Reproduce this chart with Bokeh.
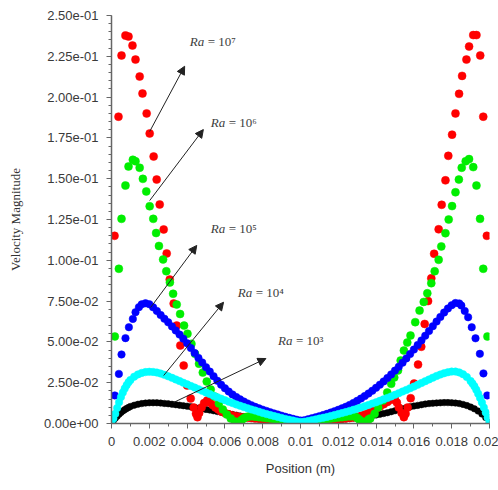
from bokeh.plotting import figure
from bokeh.models import Range1d, FixedTicker, Label, Arrow, NormalHead
from bokeh.embed import file_html
from bokeh.resources import INLINE

# ---------------- data (position [m], velocity magnitude) ----------------
ra7 = [(0.00016, 0.115), (0.00037, 0.188), (0.00053, 0.2255), (0.00074, 0.2377), (0.0009, 0.2371),
       (0.00111, 0.2316), (0.00127, 0.223), (0.00149, 0.2126), (0.00164, 0.2022), (0.00186, 0.19),
       (0.00202, 0.1777), (0.00223, 0.1636), (0.00239, 0.1495), (0.00255, 0.1342), (0.00276, 0.1189),
       (0.00292, 0.1042), (0.00308, 0.0882), (0.00329, 0.0735), (0.00345, 0.06), (0.00364, 0.0478),
       (0.00382, 0.0355), (0.004, 0.0233), (0.00419, 0.0153), (0.00435, 0.0098), (0.00447, 0.006),
       (0.00455, 0.0039), (0.00464, 0.0065), (0.00477, 0.0098), (0.0049, 0.0125), (0.00506, 0.0141),
       (0.0052, 0.0128), (0.00535, 0.0113), (0.0055, 0.0098), (0.00565, 0.0086), (0.0058, 0.0074),
       (0.006, 0.0064), (0.0062, 0.0056), (0.0064, 0.0049), (0.0066, 0.0044), (0.0068, 0.004),
       (0.007, 0.0037), (0.0072, 0.0035), (0.0074, 0.0033), (0.0076, 0.0031), (0.0078, 0.0029),
       (0.008, 0.0027), (0.0082, 0.0025), (0.0084, 0.0023), (0.0086, 0.0021), (0.0088, 0.0019),
       (0.009, 0.0017), (0.0092, 0.0015), (0.0094, 0.0013), (0.0096, 0.001), (0.0098, 0.0007),
       (0.01, 0.0005), (0.0102, 0.0007), (0.0104, 0.001), (0.0106, 0.0013), (0.0108, 0.0015),
       (0.011, 0.0017), (0.0112, 0.0019), (0.0114, 0.0021), (0.0116, 0.0023), (0.0118, 0.0025),
       (0.012, 0.0027), (0.0122, 0.0029), (0.0124, 0.0031), (0.0126, 0.0034), (0.0128, 0.0037),
       (0.013, 0.0041), (0.0132, 0.0047), (0.0134, 0.0055), (0.0136, 0.0065), (0.0138, 0.0077),
       (0.014, 0.009), (0.0142, 0.0104), (0.0144, 0.0118), (0.0146, 0.0132), (0.0148, 0.0145),
       (0.01498, 0.0155), (0.0151, 0.0128), (0.0152, 0.0098), (0.01535, 0.0065), (0.01547, 0.0039),
       (0.01556, 0.006), (0.01567, 0.0098), (0.01583, 0.0155), (0.01601, 0.0245), (0.01622, 0.0361),
       (0.01639, 0.047), (0.01657, 0.061), (0.01675, 0.075), (0.01692, 0.089), (0.01707, 0.104),
       (0.01731, 0.119), (0.01747, 0.134), (0.01767, 0.149), (0.01782, 0.164), (0.01802, 0.177),
       (0.0182, 0.19), (0.01839, 0.202), (0.01855, 0.213), (0.01878, 0.223), (0.01892, 0.231),
       (0.01914, 0.238), (0.01931, 0.238), (0.01951, 0.2255), (0.01967, 0.188), (0.01986, 0.115)]

ra6 = [(0.000175, 0.0533), (0.00039, 0.0948), (0.00053, 0.1254), (0.00074, 0.1458), (0.0009, 0.1575),
       (0.00113, 0.1616), (0.00127, 0.1607), (0.00149, 0.1567), (0.00166, 0.1499), (0.00184, 0.1422),
       (0.00202, 0.1331), (0.00221, 0.1254), (0.00236, 0.1167), (0.00251, 0.1088), (0.00273, 0.1005),
       (0.0029, 0.0933), (0.00309, 0.0864), (0.00326, 0.0795), (0.00345, 0.0729), (0.00363, 0.0671),
       (0.00384, 0.06), (0.00402, 0.055), (0.00423, 0.0488), (0.00442, 0.0427), (0.00463, 0.0366),
       (0.00483, 0.0312), (0.00504, 0.0257), (0.00525, 0.0208), (0.00546, 0.0165), (0.00568, 0.0123),
       (0.00589, 0.0086), (0.0061, 0.0055), (0.00631, 0.0031), (0.00653, 0.0012), (0.00668, 0.0006),
       (0.0068, 0.0014), (0.0069, 0.0023), (0.007, 0.0032), (0.00711, 0.0039), (0.00725, 0.0043),
       (0.0074, 0.0044), (0.0076, 0.0042), (0.0078, 0.0039), (0.008, 0.0036), (0.0082, 0.0033),
       (0.0084, 0.003), (0.0086, 0.0027), (0.0088, 0.0024), (0.009, 0.0021), (0.0092, 0.0018),
       (0.0094, 0.0015), (0.0096, 0.0012), (0.0098, 0.0009), (0.01, 0.0007), (0.0102, 0.0009),
       (0.0104, 0.0012), (0.0106, 0.0015), (0.0108, 0.0018), (0.011, 0.0021), (0.0112, 0.0024),
       (0.0114, 0.0027), (0.0116, 0.003), (0.0118, 0.0033), (0.012, 0.0036), (0.0122, 0.0039),
       (0.0124, 0.0042), (0.0126, 0.0044), (0.0127, 0.0045), (0.0129, 0.0042), (0.013, 0.0034),
       (0.0131, 0.0025), (0.0132, 0.0015), (0.01333, 0.0006), (0.01347, 0.0012), (0.0136, 0.0025),
       (0.01369, 0.0031), (0.01392, 0.0059), (0.01411, 0.0098), (0.01436, 0.0141), (0.01459, 0.019),
       (0.0148, 0.0243), (0.01496, 0.0282), (0.01516, 0.0325), (0.0153, 0.0386), (0.01547, 0.0447),
       (0.01565, 0.0496), (0.01582, 0.0539), (0.01607, 0.0621), (0.0163, 0.0692), (0.01652, 0.0745),
       (0.01671, 0.0798), (0.01692, 0.086), (0.0171, 0.0933), (0.01731, 0.1003), (0.01745, 0.1085),
       (0.01767, 0.1166), (0.01784, 0.125), (0.01802, 0.1332), (0.0182, 0.1417), (0.01838, 0.1495),
       (0.01853, 0.1567), (0.01874, 0.1607), (0.01892, 0.162), (0.01914, 0.1571), (0.01931, 0.1458),
       (0.0195, 0.1254), (0.01967, 0.0948), (0.01989, 0.0533)]

ra5 = [(0.000175, 0.0172), (0.00039, 0.0304), (0.00053, 0.0423), (0.00074, 0.0523), (0.00092, 0.059),
       (0.00113, 0.0641), (0.00127, 0.0682), (0.00145, 0.0713), (0.0016, 0.073), (0.0018, 0.0737),
       (0.002, 0.0731), (0.0022, 0.0712), (0.0024, 0.069), (0.0026, 0.0665), (0.0028, 0.0642),
       (0.003, 0.062), (0.0032, 0.0595), (0.0034, 0.057), (0.0036, 0.0545), (0.0038, 0.052),
       (0.004, 0.0492), (0.0042, 0.0462), (0.0044, 0.0432), (0.0046, 0.0402), (0.0048, 0.0374),
       (0.005, 0.0345), (0.0052, 0.0318), (0.0054, 0.029), (0.0056, 0.0262), (0.0058, 0.0238),
       (0.006, 0.0216), (0.0062, 0.0196), (0.0064, 0.0178), (0.0066, 0.0162), (0.0068, 0.0148),
       (0.007, 0.0135), (0.0072, 0.0123), (0.0074, 0.0112), (0.0076, 0.0102), (0.0078, 0.0093),
       (0.008, 0.0085), (0.0082, 0.0077), (0.0084, 0.0069), (0.0086, 0.0062), (0.0088, 0.0055),
       (0.009, 0.0048), (0.0092, 0.0041), (0.0094, 0.0035), (0.0096, 0.0029), (0.0098, 0.0023),
       (0.01, 0.0018), (0.0102, 0.002), (0.0104, 0.0026), (0.0106, 0.0032), (0.0108, 0.0038),
       (0.011, 0.0045), (0.0112, 0.0052), (0.0114, 0.0059), (0.0116, 0.0067), (0.0118, 0.0075),
       (0.012, 0.0084), (0.0122, 0.0093), (0.0124, 0.0103), (0.0126, 0.0114), (0.0128, 0.0126),
       (0.013, 0.0139), (0.0132, 0.0153), (0.0134, 0.0168), (0.0136, 0.0184), (0.0138, 0.0201),
       (0.014, 0.0219), (0.0142, 0.0238), (0.0144, 0.0258), (0.0146, 0.0279), (0.0148, 0.0301),
       (0.015, 0.0324), (0.0152, 0.0348), (0.0154, 0.0373), (0.0156, 0.0399), (0.0158, 0.0426),
       (0.016, 0.0453), (0.0162, 0.0481), (0.0164, 0.0509), (0.0166, 0.0538), (0.0168, 0.0567),
       (0.017, 0.0596), (0.0172, 0.0625), (0.0174, 0.0653), (0.0176, 0.068), (0.0178, 0.0705),
       (0.018, 0.0725), (0.0182, 0.0738), (0.0184, 0.0736), (0.01851, 0.0723), (0.01869, 0.069),
       (0.01887, 0.0651), (0.01906, 0.059), (0.01926, 0.0522), (0.01949, 0.0427), (0.01968, 0.0307),
       (0.01988, 0.0172)]

ra4 = [(0.0, 0.0004), (0.0001, 0.003), (0.0002, 0.0059), (0.0003, 0.0095), (0.0004, 0.013),
       (0.0005, 0.0162), (0.0006, 0.019), (0.0007, 0.0214), (0.0008, 0.0235), (0.0009, 0.0252),
       (0.001, 0.0266), (0.0012, 0.0287), (0.0014, 0.0301), (0.0016, 0.031), (0.0018, 0.0315),
       (0.002, 0.0317), (0.0022, 0.0316), (0.0024, 0.0312), (0.0026, 0.0306), (0.0028, 0.0298),
       (0.003, 0.0289), (0.0032, 0.028), (0.0034, 0.027), (0.0036, 0.026), (0.0038, 0.025),
       (0.004, 0.024), (0.0042, 0.023), (0.0044, 0.022), (0.0046, 0.021), (0.0048, 0.02),
       (0.005, 0.019), (0.0052, 0.018), (0.0054, 0.017), (0.0056, 0.0161), (0.0058, 0.0152),
       (0.006, 0.0143), (0.0062, 0.0134), (0.0064, 0.0125), (0.0066, 0.0117), (0.0068, 0.0109),
       (0.007, 0.0101), (0.0072, 0.0093), (0.0074, 0.0086), (0.0076, 0.0079), (0.0078, 0.0072),
       (0.008, 0.0065), (0.0082, 0.0058), (0.0084, 0.0052), (0.0086, 0.0046), (0.0088, 0.004),
       (0.009, 0.0034), (0.0092, 0.0028), (0.0094, 0.0023), (0.0096, 0.0018), (0.0098, 0.0013),
       (0.01, 0.0009), (0.0102, 0.0011), (0.0104, 0.0015), (0.0106, 0.002), (0.0108, 0.0025),
       (0.011, 0.003), (0.0112, 0.0035), (0.0114, 0.004), (0.0116, 0.0046), (0.0118, 0.0052),
       (0.012, 0.0058), (0.0122, 0.0064), (0.0124, 0.007), (0.0126, 0.0077), (0.0128, 0.0084),
       (0.013, 0.0091), (0.0132, 0.0098), (0.0134, 0.0106), (0.0136, 0.0114), (0.0138, 0.0122),
       (0.014, 0.013), (0.0142, 0.0139), (0.0144, 0.0148), (0.0146, 0.0157), (0.0148, 0.0166),
       (0.015, 0.0176), (0.0152, 0.0186), (0.0154, 0.0196), (0.0156, 0.0206), (0.0158, 0.0216),
       (0.016, 0.0226), (0.0162, 0.0237), (0.0164, 0.0248), (0.0166, 0.0259), (0.0168, 0.027),
       (0.017, 0.0281), (0.0172, 0.0291), (0.0174, 0.03), (0.0176, 0.0308), (0.0178, 0.0314),
       (0.018, 0.0318), (0.0182, 0.0318), (0.0184, 0.0313), (0.0186, 0.0302), (0.0188, 0.0285),
       (0.019, 0.026), (0.0191, 0.0245), (0.0192, 0.0228), (0.0193, 0.0207), (0.0194, 0.0183),
       (0.0195, 0.0157), (0.0196, 0.0128), (0.0197, 0.0098), (0.0198, 0.0068), (0.0199, 0.0036),
       (0.02, 0.0004)]

ra3 = [(0.0, 0.0003), (0.0001, 0.0018), (0.0002, 0.0032), (0.0003, 0.0045), (0.0004, 0.0057),
       (0.0005, 0.0067), (0.0006, 0.0077), (0.0007, 0.0085), (0.0008, 0.0092), (0.0009, 0.0098),
       (0.001, 0.0104), (0.0012, 0.0112), (0.0014, 0.0118), (0.0016, 0.0122), (0.0018, 0.0125),
       (0.002, 0.0127), (0.0022, 0.0127), (0.0024, 0.0127), (0.0026, 0.0125), (0.0028, 0.0123),
       (0.003, 0.0121), (0.0032, 0.0118), (0.0034, 0.0115), (0.0036, 0.0112), (0.0038, 0.0109),
       (0.004, 0.0106), (0.0042, 0.0102), (0.0044, 0.0098), (0.0046, 0.0094), (0.0048, 0.009),
       (0.005, 0.0086), (0.0052, 0.0082), (0.0054, 0.0078), (0.0056, 0.0073), (0.0058, 0.0069),
       (0.006, 0.0064), (0.0062, 0.006), (0.0064, 0.0055), (0.0066, 0.0051), (0.0068, 0.0046),
       (0.007, 0.0042), (0.0072, 0.0038), (0.0074, 0.0034), (0.0076, 0.003), (0.0078, 0.0027),
       (0.008, 0.0024), (0.0082, 0.0021), (0.0084, 0.0018), (0.0086, 0.0015), (0.0088, 0.0012),
       (0.009, 0.001), (0.0092, 0.0008), (0.0094, 0.0006), (0.0096, 0.0004), (0.0098, 0.0003),
       (0.01, 0.0002), (0.0102, 0.0003), (0.0104, 0.0004), (0.0106, 0.0006), (0.0108, 0.0008),
       (0.011, 0.001), (0.0112, 0.0012), (0.0114, 0.0014), (0.0116, 0.0016), (0.0118, 0.0019),
       (0.012, 0.0022), (0.0122, 0.0025), (0.0124, 0.0028), (0.0126, 0.0031), (0.0128, 0.0034),
       (0.013, 0.0037), (0.0132, 0.004), (0.0134, 0.0043), (0.0136, 0.0046), (0.0138, 0.0049),
       (0.014, 0.0052), (0.0142, 0.0056), (0.0144, 0.0061), (0.0146, 0.0066), (0.0148, 0.0072),
       (0.015, 0.0078), (0.0152, 0.0084), (0.0154, 0.009), (0.0156, 0.0096), (0.0158, 0.0102),
       (0.016, 0.0107), (0.0162, 0.0111), (0.0164, 0.0115), (0.0166, 0.0119), (0.0168, 0.0122),
       (0.017, 0.0124), (0.0172, 0.0126), (0.0174, 0.0127), (0.0176, 0.0128), (0.0178, 0.0128),
       (0.018, 0.0127), (0.0182, 0.0125), (0.0184, 0.0122), (0.0186, 0.0117), (0.0188, 0.011),
       (0.019, 0.0101), (0.0192, 0.009), (0.0194, 0.0076), (0.0196, 0.0058), (0.0198, 0.0036),
       (0.02, 0.0006)]

y_ticks = [0.0, 0.025, 0.05, 0.075, 0.1, 0.125, 0.15, 0.175, 0.2, 0.225, 0.25]
y_tick_labels = ["0.00e+00", "2.50e-02", "5.00e-02", "7.50e-02", "1.00e-01", "1.25e-01",
                 "1.50e-01", "1.75e-01", "2.00e-01", "2.25e-01", "2.50e-01"]
x_ticks = [0.0, 0.002, 0.004, 0.006, 0.008, 0.01, 0.012, 0.014, 0.016, 0.018, 0.02]
x_tick_labels = ["0", "0.002", "0.004", "0.006", "0.008", "0.01", "0.012", "0.014",
                 "0.016", "0.018", "0.02"]

# ---------------- figure ----------------
p = figure(width=498, height=488, output_backend="svg", toolbar_location=None,
           x_range=Range1d(0, 0.02), y_range=Range1d(0, 0.25),
           min_border_left=111, min_border_right=9, min_border_top=15, min_border_bottom=65,
           background_fill_color="white", border_fill_color="white")
p.outline_line_color = None
p.xgrid.grid_line_color = None
p.ygrid.grid_line_color = None

tick_col = "#3a3a3a"
axis_col = "#666666"

y_minor = [round(i * 0.005, 4) for i in range(51)]
x_minor = [round(i * 0.001, 4) for i in range(21)]
p.yaxis.ticker = FixedTicker(ticks=y_ticks, minor_ticks=y_minor)
p.xaxis.ticker = FixedTicker(ticks=x_ticks, minor_ticks=x_minor)
p.yaxis.major_label_overrides = dict(zip(y_ticks, y_tick_labels))
p.xaxis.major_label_overrides = dict(zip(x_ticks, x_tick_labels))

for ax in (p.xaxis[0], p.yaxis[0]):
    ax.axis_line_color = axis_col
    ax.axis_line_width = 1.5
    ax.major_tick_line_color = axis_col
    ax.minor_tick_line_color = axis_col
    ax.major_tick_out = 5
    ax.major_tick_in = 0
    ax.minor_tick_out = 3
    ax.minor_tick_in = 0
    ax.major_label_text_font = "Liberation Sans"
    ax.major_label_text_font_size = "13px"
    ax.major_label_text_color = tick_col
    ax.major_label_standoff = 8

p.xaxis.axis_label = "Position (m)"
p.xaxis.axis_label_text_font = "Liberation Sans"
p.xaxis.axis_label_text_font_size = "13px"
p.xaxis.axis_label_text_font_style = "normal"
p.xaxis.axis_label_text_color = "#333333"
p.xaxis.axis_label_standoff = 12

p.yaxis.axis_label = "Velocity Magnitude"
p.yaxis.axis_label_text_font = "Liberation Serif"
p.yaxis.axis_label_text_font_size = "13px"
p.yaxis.axis_label_text_font_style = "normal"
p.yaxis.axis_label_text_color = "#333333"
p.yaxis.axis_label_standoff = 18

series = [
    (ra3, "#000000", 6.5),
    (ra7, "#ff0000", 8),
    (ra6, "#00ee00", 8),
    (ra5, "#0000ff", 7.5),
    (ra4, "#00ffff", 7.5),
]
for pts, col, sz in series:
    xs = [a for a, b in pts]
    ys = [b for a, b in pts]
    p.scatter(xs, ys, marker="circle", size=sz, fill_color=col, line_color=col, line_width=0.5)

# ---------------- annotations ----------------
labels = [
    ("7", 0.00414, 0.234, (0.00202, 0.1789), (0.00387, 0.2189)),
    ("6", 0.00525, 0.1844, (0.00202, 0.1366), (0.00486, 0.1801)),
    ("5", 0.00525, 0.1195, (0.00207, 0.0711), (0.00451, 0.1091)),
    ("4", 0.00668, 0.0803, (0.00276, 0.0294), (0.00593, 0.0743)),
    ("3", 0.00881, 0.0509, (0.00329, 0.0129), (0.00817, 0.0398)),
]
sup = {"3": "\u00b3", "4": "\u2074", "5": "\u2075", "6": "\u2076", "7": "\u2077"}
for exp, lx, ly, (x0, y0), (x1, y1) in labels:
    p.add_layout(Arrow(x_start=x0, y_start=y0, x_end=x1, y_end=y1,
                       line_color="#222222", line_width=1,
                       end=NormalHead(size=8, fill_color="#222222", line_color="#222222")))
    p.add_layout(Label(x=lx, y=ly, text="Ra", text_font="Liberation Serif",
                       text_font_style="italic", text_font_size="13px",
                       text_color="#404040", text_baseline="middle"))
    p.add_layout(Label(x=lx, y=ly, x_offset=18, text="= 10" + sup[exp],
                       text_font="Liberation Serif", text_font_size="13px",
                       text_color="#404040", text_baseline="middle"))

open("out.html", "w").write(file_html(p, INLINE))
